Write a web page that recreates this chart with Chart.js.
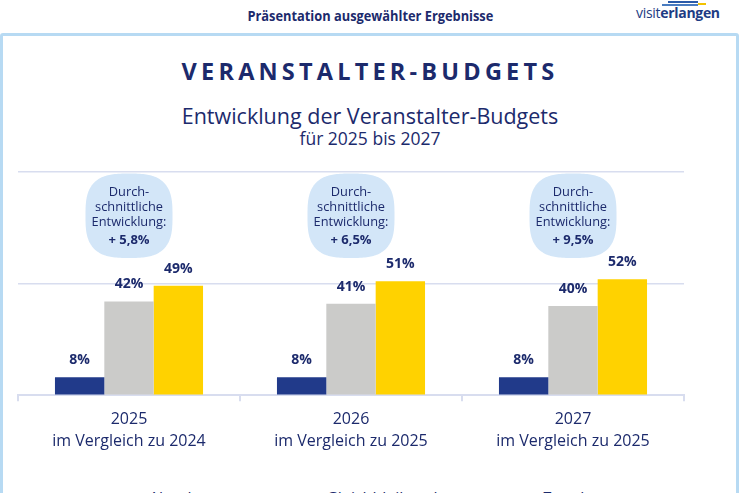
<!DOCTYPE html>
<html><head><meta charset="utf-8">
<script src="https://cdn.jsdelivr.net/npm/chart.js@4.4.1/dist/chart.umd.min.js"></script>
<style>
html,body{margin:0;padding:0;width:740px;height:493px;overflow:hidden;background:#fff;font-family:"Open Sans",sans-serif;color:#1c2a6c;}
.abs{position:absolute;left:0;width:740px;text-align:center;white-space:nowrap;}
#hdr{top:7px;font-weight:700;font-size:13.5px;line-height:18px;}
#hdr span{display:inline-block;transform:scaleX(0.95);}
#logo{position:absolute;left:636px;top:4px;font-size:14px;line-height:18px;color:#1d3c84;letter-spacing:-0.3px;}
#logo b{font-weight:700;}
.lg{position:absolute;height:2px;}
#box{position:absolute;left:0px;top:33px;width:733px;height:520px;border:3px solid #b7daf3;border-radius:3px;}
#title{top:56px;font-weight:700;font-size:23.5px;line-height:31px;letter-spacing:4.2px;}
#sub1{top:102px;font-size:21.5px;line-height:28px;}
#sub2{top:127px;font-size:17.5px;line-height:23px;}
#wrap{position:absolute;left:0;top:160px;width:740px;height:300px;}
#legend{position:absolute;left:131px;top:487px;display:flex;gap:87px;font-size:16px;line-height:22px;white-space:nowrap;}
#legend .it{display:flex;align-items:center;}
#legend .sq{width:9px;height:9px;margin-right:9px;}
</style></head>
<body>
<div id="box"></div>
<div id="hdr" class="abs"><span>Präsentation ausgewählter Ergebnisse</span></div>
<div class="lg" style="left:668px;top:1px;width:30px;background:#2a5aa8"></div>
<div class="lg" style="left:662px;top:4px;width:36px;background:#4a7cc0"></div>
<div class="lg" style="left:698px;top:3px;width:8px;background:#f2c200"></div>
<div id="logo">visit<b>erlangen</b></div>
<div id="title" class="abs">VERANSTALTER-BUDGETS</div>
<div id="sub1" class="abs">Entwicklung der Veranstalter-Budgets</div>
<div id="sub2" class="abs">für 2025 bis 2027</div>
<div id="wrap"><canvas id="c"></canvas></div>
<div id="legend"></div>
<script>
// ---- data ----
const years = ['2025', '2026', '2027'];
const compareTo = ['im Vergleich zu 2024', 'im Vergleich zu 2025', 'im Vergleich zu 2025'];
const seriesNames = ['Abnahme', 'Gleichbleibend', 'Zunahme'];
const abnahme = [8, 8, 8];
const gleichbleibend = [42, 41, 40];
const zunahme = [49, 51, 52];
const bubbleText = ['Durch-', 'schnittliche', 'Entwicklung:'];
const avgChange = ['+ 5,8%', '+ 6,5%', '+ 9,5%'];
// ---- styles ----
const colors = ['#213a8a', '#cbcbc9', '#ffd200'];
const navy = '#1c2a6c';
const gridCol = '#d8ddef';

const labels = years.map((y, i) => [y, compareTo[i]]);
const seriesData = [abnahme, gleichbleibend, zunahme];

const bubbles = {
  id: 'bubbles',
  afterDatasetsDraw(chart) {
    const {ctx, scales: {x, y}} = chart;
    avgChange.forEach((txt, i) => {
      const cx = x.getPixelForValue(i);
      const top = y.getPixelForValue(99.3), bot = y.getPixelForValue(61.5);
      const cy = (top + bot) / 2, ry = (bot - top) / 2, rx = 43.5;
      const n = 3.0;
      ctx.save();
      ctx.beginPath();
      for (let k = 0; k <= 200; k++) {
        const t = k / 200 * 2 * Math.PI, c = Math.cos(t), s = Math.sin(t);
        const px = cx + rx * Math.sign(c) * Math.pow(Math.abs(c), 2 / n);
        const py = cy + ry * Math.sign(s) * Math.pow(Math.abs(s), 2 / n);
        k ? ctx.lineTo(px, py) : ctx.moveTo(px, py);
      }
      ctx.closePath();
      ctx.fillStyle = '#d3e6f8';
      ctx.fill();
      ctx.fillStyle = navy;
      ctx.textAlign = 'center';
      ctx.textBaseline = 'middle';
      ctx.font = '12.8px "Open Sans", sans-serif';
      bubbleText.forEach((l, j) => ctx.fillText(l, cx, cy - 23 + j * 15));
      ctx.font = 'bold 13px "Open Sans", sans-serif';
      ctx.fillText(txt, cx, cy + 25);
      ctx.restore();
    });
  }
};

const valueLabels = {
  id: 'valueLabels',
  afterDatasetsDraw(chart) {
    const {ctx} = chart;
    ctx.save();
    ctx.fillStyle = navy;
    ctx.textAlign = 'center';
    ctx.textBaseline = 'middle';
    ctx.font = 'bold 14px "Open Sans", sans-serif';
    chart.data.datasets.forEach((ds, di) => {
      chart.getDatasetMeta(di).data.forEach((bar, i) => {
        ctx.fillText(ds.data[i] + '%', bar.x, bar.y - 17);
      });
    });
    ctx.restore();
  }
};

new Chart(document.getElementById('c'), {
  type: 'bar',
  data: {
    labels: labels,
    datasets: seriesNames.map((n, i) => ({
      label: n, data: seriesData[i], backgroundColor: colors[i],
      categoryPercentage: 0.667, barPercentage: 1.0, borderWidth: 0
    }))
  },
  options: {
    responsive: true, maintainAspectRatio: false, animation: false,
    layout: {padding: {left: 18, right: 56, top: 12, bottom: 0}},
    plugins: {legend: {display: false}, tooltip: {enabled: false}},
    scales: {
      x: {
        grid: {display: true, offset: true, drawOnChartArea: false, drawTicks: true, tickLength: 6, color: gridCol, lineWidth: 2},
        border: {display: true, color: gridCol, width: 2},
        ticks: {color: navy, padding: 7, font: {family: '"Open Sans", sans-serif', size: 16, lineHeight: 1.4}}
      },
      y: {
        min: 0, max: 100,
        grid: {color: gridCol, lineWidth: 1.5, drawTicks: false},
        border: {display: false},
        ticks: {display: false, stepSize: 50}
      }
    }
  },
  plugins: [bubbles, valueLabels]
});

const lg = document.getElementById('legend');
seriesNames.forEach((n, i) => {
  const it = document.createElement('div'); it.className = 'it';
  const sq = document.createElement('span'); sq.className = 'sq'; sq.style.background = colors[i];
  it.appendChild(sq); it.appendChild(document.createTextNode(n)); lg.appendChild(it);
});
</script>
</body></html>
